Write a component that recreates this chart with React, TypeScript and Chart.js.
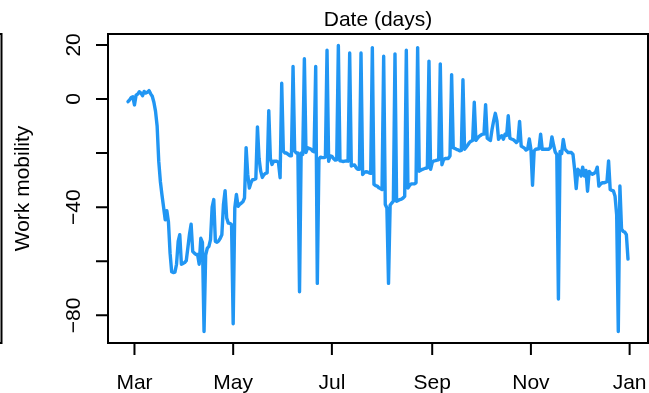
import { useEffect, useRef } from "react";
import { Chart, registerables } from "chart.js";

Chart.register(...registerables);

// Day index counted from 1 March 2020 (day 0); series starts 26 Feb 2020.
const START_DAY = -4;

// Workplace mobility (% change from baseline), one value per day, -4 .. 305
const workMobility: number[] = [
  -1, -0.3, 0.5, 0.8, -2.2, 1.4, 1.8, 2.7, 2.2, 1.2,
  2.8, 2.2, 2.5, 3.1, 1.9, 1, -1.2, -4.5, -10, -23,
  -30.5, -35.5, -40, -44.7, -41.3, -45.5, -57, -63.9, -64.2, -64,
  -61.1, -52.7, -50.2, -61.1, -60.8, -60.5, -59.8, -55, -50, -46.3,
  -56.4, -57, -57.5, -57.5, -61.1, -51.5, -53, -86, -57.7, -55.2,
  -54.5, -52, -40, -37.2, -52.7, -53, -52.5, -51.5, -50.2, -39,
  -33.9, -44, -45.9, -46, -46.5, -83.1, -40.3, -35.3, -39.7, -39,
  -38.5, -38, -36.6, -18, -27.9, -32.9, -31, -29.8, -29.8, -29.5,
  -10.3, -22, -26.7, -29, -28, -27.5, -27.3, -4.3, -22, -24.2,
  -23, -23, -23, -23.5, -29.1, 5.8, -19.2, -20, -20, -20.5,
  -21, -21, 12, -19.2, -20, -20, -71.3, -20, -20.5, 14.9,
  -19.8, -18, -18.3, -18.5, -19.2, -19.5, 12, -68.2, -22.3, -21.5,
  -21.7, -21.7, -21.5, 18, -23, -21, -21.2, -22, -22.6, -22.5,
  19.8, -22.9, -23, -23.1, -23, -22.9, -23, 17, -24.8, -24.5,
  -24.4, -25.4, -26, -26, 17, -27.9, -27.2, -26.9, -27, -27.3,
  -27.5, 19, -31.6, -32, -32.2, -32.8, -33.1, -33.5, 15.8, -39,
  -40.3, -68.2, -39.3, -38.5, -37.8, 16.7, -37.8, -37.5, -37.2, -37,
  -36.6, -36, 18, -32.9, -32, -31.4, -31.4, -31.4, -31, 19,
  -26.7, -26.3, -26, -25.8, -25.6, -25.5, 14, -26, -23.5, -22.9,
  -22.8, -22.6, -22.5, 13, -24.3, -22.5, -22, -22, -22, -21,
  9, -18, -18.3, -18.6, -18.8, -19.2, -19, 7.1, -18.6, -17.8,
  -17, -16.1, -15.6, -15.3, -1.2, -15.3, -14.5, -13.8, -13.4, -13,
  -13, -2.1, -14.5, -15, -15.3, -11.2, -8, -5.3, -8.1, -14.9,
  -14, -13.6, -14.9, -13, -13.5, -6.2, -14.5, -14.8, -15, -15.5,
  -16.1, -15.5, -8.3, -17.4, -17.8, -18.2, -18.9, -18.5, -14.8, -18.6,
  -31.9, -19.2, -18.6, -18.5, -18.4, -13, -18.6, -18.6, -18.6, -18.6,
  -18.6, -18, -14, -17, -19.6, -20.5, -74, -19.4, -20.2, -15,
  -18.5, -19.2, -19.8, -19.8, -19.8, -20.5, -26, -33.1, -26, -26.7,
  -28.5, -25.2, -28.5, -26.4, -34.1, -26.8, -27.5, -27.8, -27.5, -27,
  -25.2, -32.2, -31.5, -31, -31, -30.8, -30.6, -22.9, -33.5, -33.8,
  -34, -36, -42.8, -86, -32.2, -48, -49, -49.2, -50.2, -59.2,
];

const xTickDays = [0, 61, 122, 184, 245, 306];
const xTickLabels = ["Mar", "May", "Jul", "Sep", "Nov", "Jan"];
const yTickValues = [20, 0, -20, -40, -60, -80];
const yTickLabels = ["20", "0", "", "\u221240", "", "\u221280"];
const TITLE = "Date (days)";
const Y_LABEL = "Work mobility";

const LINE_COLOR = "#2196F3";
const FONT = "21px 'Liberation Sans', Arial, Helvetica, sans-serif";

// R-style 4% range extension
function rRange(vals: number[]): [number, number] {
  const lo = Math.min(...vals);
  const hi = Math.max(...vals);
  const pad = (hi - lo) * 0.04;
  return [lo - pad, hi + pad];
}

const rAxesPlugin = {
  id: "rAxes",
  afterDraw(chart: any) {
    const { ctx, chartArea: a, scales } = chart;
    const xs = scales.x;
    const ys = scales.y;
    ctx.save();
    ctx.strokeStyle = "#000";
    ctx.lineWidth = 2;
    ctx.lineCap = "butt";
    // plot box
    ctx.strokeRect(a.left, a.top, a.right - a.left, a.bottom - a.top);
    // edge of neighbouring panel at the far left
    ctx.strokeRect(-20, a.top, 21.5, a.bottom - a.top);

    // ticks
    ctx.beginPath();
    xTickDays.forEach((d) => {
      const px = xs.getPixelForValue(d);
      ctx.moveTo(px, a.bottom);
      ctx.lineTo(px, a.bottom + 12);
    });
    yTickValues.forEach((v) => {
      const py = ys.getPixelForValue(v);
      ctx.moveTo(a.left, py);
      ctx.lineTo(a.left - 12, py);
    });
    ctx.stroke();

    ctx.fillStyle = "#000";
    ctx.font = FONT;
    ctx.textBaseline = "alphabetic";
    ctx.textAlign = "center";
    // x tick labels
    xTickDays.forEach((d, i) => {
      const px = xs.getPixelForValue(d);
      ctx.fillText(xTickLabels[i], px, 389);
    });
    // title
    ctx.fillText(TITLE, (a.left + a.right) / 2, 26);

    // y tick labels (rotated, parallel to axis)
    yTickValues.forEach((v, i) => {
      if (!yTickLabels[i]) return;
      const py = ys.getPixelForValue(v);
      ctx.save();
      ctx.translate(79.5, py);
      ctx.rotate(-Math.PI / 2);
      ctx.fillText(yTickLabels[i], 0, 0);
      ctx.restore();
    });
    // y axis label
    ctx.save();
    ctx.translate(28.5, (a.top + a.bottom) / 2);
    ctx.rotate(-Math.PI / 2);
    ctx.fillText(Y_LABEL, 0, 0);
    ctx.restore();

    ctx.restore();
  },
};

export default function App() {
  const canvasRef = useRef<HTMLCanvasElement | null>(null);

  useEffect(() => {
    const canvas = canvasRef.current;
    if (!canvas) return;
    const days = workMobility.map((_, i) => START_DAY + i);
    const [xMin, xMax] = rRange(days);
    const [yMin, yMax] = rRange(workMobility);

    const chart = new Chart(canvas, {
      type: "line",
      data: {
        datasets: [
          {
            data: workMobility.map((v, i) => ({ x: days[i], y: v })),
            borderColor: LINE_COLOR,
            backgroundColor: LINE_COLOR,
            borderWidth: 3.4,
            pointRadius: 0,
            tension: 0,
            borderJoinStyle: "round",
            borderCapStyle: "round",
            fill: false,
          },
        ],
      },
      options: {
        animation: false,
        responsive: false,
        devicePixelRatio: 1,
        layout: { padding: { left: 108, right: 1, top: 34, bottom: 50 } },
        plugins: {
          legend: { display: false },
          tooltip: { enabled: false },
          title: { display: false },
        },
        scales: {
          x: { type: "linear", min: xMin, max: xMax, display: false },
          y: { type: "linear", min: yMin, max: yMax, display: false },
        },
      },
      plugins: [rAxesPlugin],
    });
    return () => chart.destroy();
  }, []);

  return (
    <div
      style={{
        position: "fixed",
        left: 0,
        top: 0,
        width: 649,
        height: 393,
        background: "#fff",
      }}
    >
      <canvas ref={canvasRef} width={649} height={393} />
    </div>
  );
}
